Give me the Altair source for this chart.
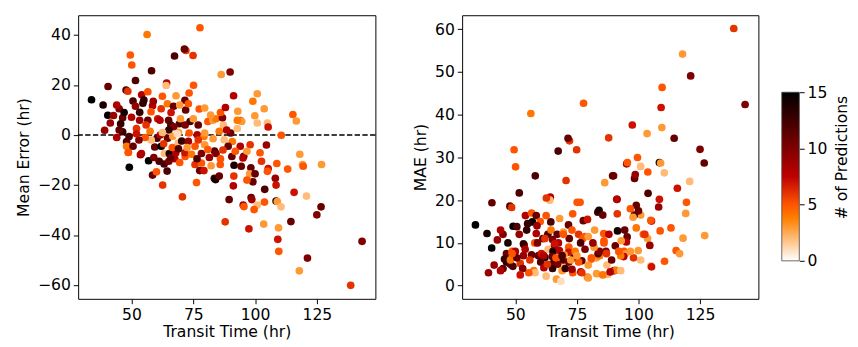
import altair as alt
import pandas as pd

# ---- data (transit time, mean error, MAE, # predictions) ----
transit = [
    33.8, 38.5, 40.4, 39.1, 40.5, 41.4, 42.7, 46.4, 45.6, 46.4,
    49.5, 50.1, 56.3, 77.7, 72.0, 71.4, 67.4, 74.9, 58.1, 86.3,
    89.9, 51.6, 47.8, 48.5, 64.2, 64.0, 75.1, 91.3, 54.1, 56.6,
    62.5, 68.0, 73.3, 100.9, 99.1, 103.7, 99.9, 100.9, 105.0, 105.3,
    115.3, 116.7, 110.6, 94.1, 94.6, 98.0, 104.6, 102.0, 118.1, 95.4,
    96.7, 94.0, 126.9, 119.2, 119.5, 113.2, 108.8, 105.3, 105.0, 102.6,
    98.3, 97.8, 100.0, 99.1, 96.7, 108.2, 108.5, 103.9, 115.8, 120.8,
    98.4, 98.7, 95.2, 95.5, 100.9, 103.8, 108.5, 109.0, 110.5, 126.7,
    125.0, 114.5, 97.5, 103.5, 109.5, 109.2, 109.6, 121.2, 117.9, 143.3,
    138.7, 99.6, 49.1, 56.9, 58.5, 60.1, 62.6, 64.4, 70.6, 76.3,
    83.5, 84.0, 85.5, 89.5, 87.9, 91.2, 91.4, 91.5, 75.7, 78.3,
    82.2, 77.6, 79.3, 85.9, 53.6, 48.7, 61.2, 63.2, 65.1, 67.5,
    71.7, 90.6, 95.1, 94.4, 50.6, 51.6, 54.6, 58.5, 57.9, 50.0,
    53.3, 53.3, 56.6, 55.9, 52.0, 49.0, 48.0, 48.0, 50.6, 48.7,
    54.0, 59.4, 62.0, 60.3, 61.6, 64.6, 63.3, 65.3, 65.9, 67.9,
    68.9, 71.6, 60.6, 61.5, 65.0, 65.9, 69.4, 69.8, 67.1, 65.1,
    69.0, 71.7, 73.3, 73.7, 77.0, 76.6, 79.3, 79.6, 80.9, 82.9,
    84.2, 87.2, 86.8, 90.1, 90.8, 87.5, 92.8, 92.8, 89.1, 83.6,
    84.2, 78.3, 75.7, 79.6, 80.9, 74.3, 70.3, 71.6, 71.9, 77.4,
    79.6, 75.0, 64.5, 67.0, 62.0, 69.5, 73.0, 58.8, 55.0, 45.0,
    44.0, 66.0, 82.0, 86.0, 88.0, 93.0, 57.5, 58.0, 55.5, 53.0,
    73.0, 77.0, 83.0, 85.5, 88.5, 63.0, 66.5, 69.0, 72.5, 87.0,
    92.0, 81.5, 86.0, 76.5, 69.5, 59.0, 52.0, 45.0, 44.0, 47.0,
    62.5, 66.7, 68.5,
]

mean_error = [
    14.1, 12.0, 7.9, 1.9, 19.4, 4.8, 7.8, 6.9, 4.5, 1.3,
    32.0, 28.0, 40.2, 42.9, 33.8, 34.4, 31.6, 31.8, 25.7, 24.2,
    25.2, 21.8, 18.0, 17.5, 20.8, 19.8, 19.9, 15.7, 16.1, 17.3,
    15.5, 15.7, 16.8, 16.5, 13.5, 10.5, 7.7, 4.8, 4.8, 3.2,
    8.2, 5.6, -0.1, 5.8, 5.4, -3.9, -4.0, -7.1, -7.7, -8.5,
    -6.5, -4.5, -11.8, -11.8, -12.5, -13.6, -11.4, -13.4, -14.5, -10.5,
    -13.1, -15.5, -15.5, -18.7, -18.0, -17.3, -20.0, -21.7, -22.9, -24.4,
    -25.0, -25.8, -28.0, -28.6, -28.0, -26.8, -26.4, -26.6, -28.7, -28.7,
    -31.9, -34.6, -37.5, -35.6, -37.1, -41.7, -46.5, -49.2, -54.3, -42.5,
    -60.1, -29.8, -12.9, -10.3, -16.0, -14.7, -20.0, -14.4, -24.7, -19.0,
    -17.3, -17.8, -16.4, -25.8, -34.7, -20.3, -16.4, -12.1, -11.8, -11.2,
    -12.3, -14.2, -14.2, -11.8, -7.9, -7.0, -10.5, -11.6, -10.5, -9.5,
    -8.6, -8.6, -9.2, -12.5, 13.6, 11.5, 12.7, 11.7, 9.3, 7.1,
    9.1, 5.9, 5.9, 4.0, 2.6, -0.6, -2.6, -4.5, -4.5, -6.9,
    -7.4, -4.8, -4.5, -1.3, 0.0, -1.3, -7.4, -7.4, -9.1, -7.1,
    -3.2, -7.1, 6.5, 5.9, 5.9, 4.0, 4.5, 6.5, 3.3, 2.0,
    1.0, 4.0, 0.8, 5.4, 4.0, 0.1, -0.6, 0.8, 5.4, 5.9,
    6.5, 4.0, 6.9, 0.8, -2.6, -1.9, 5.9, 2.6, -4.5, -6.4,
    -7.4, -7.4, -4.5, -3.9, -5.8, -7.7, -2.4, 13.9, 10.0, 10.4,
    10.8, 6.5, 12.5, 11.5, 10.5, 12.0, 12.5, 13.5, 14.0, 10.5,
    12.0, 9.0, 8.0, 9.0, 11.0, 9.5, 1.5, -2.0, -1.0, -2.0,
    -2.5, -2.0, -1.5, 1.5, 2.0, -3.5, -5.0, -5.5, -5.0, -6.0,
    -6.5, -9.0, -9.5, -9.5, -11.0, -9.0, 0.5, 2.0, -1.0, 9.0,
    1.0, -0.5, 0.5,
]

mae = [
    14.2, 12.2, 8.8, 3.0, 19.4, 4.8, 10.7, 7.5, 6.2, 5.5,
    31.8, 27.8, 40.3, 42.7, 33.9, 34.5, 31.5, 31.8, 25.7, 24.1,
    25.7, 21.7, 18.6, 18.3, 20.7, 20.0, 19.5, 20.2, 16.4, 17.0,
    16.4, 15.7, 16.8, 16.5, 13.5, 11.0, 8.2, 6.0, 4.6, 4.4,
    8.2, 7.5, 5.7, 8.0, 7.4, 6.5, 9.4, 12.0, 11.1, 11.4,
    8.0, 6.8, 11.7, 16.9, 19.5, 13.5, 12.8, 15.1, 15.3, 12.0,
    16.5, 16.0, 17.5, 18.8, 18.0, 18.4, 20.2, 21.6, 22.8, 24.4,
    25.1, 26.0, 28.5, 28.8, 27.9, 26.6, 28.8, 28.7, 26.4, 28.7,
    31.9, 34.5, 37.6, 35.6, 37.0, 41.7, 46.4, 49.1, 54.2, 42.4,
    60.2, 30.0, 13.9, 14.9, 16.4, 15.0, 20.5, 14.9, 24.6, 19.5,
    17.2, 17.6, 16.5, 25.7, 34.6, 20.2, 16.8, 12.8, 12.0, 11.5,
    13.0, 15.2, 15.5, 12.2, 9.5, 8.0, 11.0, 12.0, 10.8, 10.0,
    9.0, 9.3, 10.2, 13.0, 13.8, 12.0, 13.0, 12.2, 10.0, 8.0,
    9.8, 7.0, 7.2, 6.0, 5.2, 4.5, 5.0, 6.0, 6.5, 7.5,
    8.5, 7.0, 6.6, 5.5, 4.2, 5.0, 8.5, 8.0, 9.5, 8.2,
    4.5, 7.8, 7.5, 7.0, 6.8, 5.8, 6.0, 7.2, 5.0, 4.0,
    3.5, 5.5, 3.0, 6.5, 5.8, 3.2, 2.0, 1.8, 6.2, 6.5,
    7.0, 4.8, 8.0, 3.5, 3.6, 2.6, 7.0, 3.5, 6.0, 7.5,
    8.0, 8.5, 5.5, 4.8, 6.5, 8.0, 4.0, 14.2, 11.0, 11.0,
    11.5, 7.0, 13.0, 12.0, 11.0, 12.5, 13.0, 14.0, 14.5, 12.0,
    13.0, 9.8, 9.0, 10.0, 12.0, 10.5, 3.5, 3.0, 3.0, 4.0,
    3.8, 3.0, 2.8, 2.5, 3.2, 5.0, 6.5, 7.0, 6.0, 7.5,
    8.0, 10.0, 10.5, 10.0, 12.0, 10.0, 2.5, 4.0, 3.5, 10.0,
    2.2, 1.5, 1.0,
]

n_pred = [
    15, 14, 15, 9, 11, 9, 9, 11, 13, 13,
    5, 5, 4, 5, 6, 11, 12, 6, 12, 3,
    10, 12, 12, 6, 8, 2, 5, 8, 8, 5,
    5, 3, 5, 3, 4, 3, 3, 2, 2, 7,
    5, 3, 5, 5, 3, 6, 9, 5, 3, 11,
    3, 8, 3, 3, 5, 5, 5, 7, 5, 6,
    11, 3, 11, 11, 5, 9, 7, 12, 7, 2,
    11, 9, 9, 5, 2, 5, 14, 3, 2, 11,
    10, 11, 7, 3, 3, 7, 5, 10, 3, 10,
    6, 5, 15, 15, 11, 5, 6, 12, 6, 5,
    12, 14, 11, 11, 6, 8, 6, 14, 6, 5,
    3, 11, 7, 5, 9, 5, 12, 12, 10, 8,
    5, 11, 8, 11, 12, 9, 13, 8, 5, 8,
    13, 9, 11, 6, 6, 12, 12, 4, 11, 5,
    8, 11, 15, 12, 8, 11, 2, 14, 11, 8,
    2, 7, 7, 8, 11, 12, 12, 3, 10, 13,
    3, 10, 5, 12, 11, 8, 4, 3, 5, 3,
    4, 2, 10, 11, 4, 2, 4, 2, 11, 12,
    10, 10, 5, 3, 5, 4, 13, 11, 11, 5,
    3, 3, 4, 11, 6, 3, 5, 9, 13, 10,
    8, 7, 3, 5, 8, 3, 4, 2, 5, 10,
    9, 6, 3, 4, 8, 6, 5, 12, 3, 6,
    5, 9, 5, 12, 5, 10, 7, 11, 8, 14,
    2, 3, 1,
]

x_ticks = [50, 75, 100, 125]
me_ticks = [-60, -40, -20, 0, 20, 40]
mae_ticks = [0, 10, 20, 30, 40, 50, 60]
cbar_ticks = [0, 5, 10, 15]
cbar_span = [0, 15]
# gist_heat_r breakpoints
cmap_stops = [0, 3.75, 5, 7.5, 15]
cmap_colors = ["#ffffff", "#ff8000", "#ff5500", "#bf0000", "#000000"]

assert len(transit) == len(mean_error) == len(mae) == len(n_pred)

df = pd.DataFrame({"transit": transit, "me": mean_error, "mae": mae, "n": n_pred})
zero_df = pd.DataFrame({"y": [0]})
cbar_df = pd.DataFrame({"lo": [cbar_span[0]], "hi": [cbar_span[1]]})

FONT = "DejaVu Sans"
PW, PH = 305, 291

color = alt.Color(
    "n:Q",
    scale=alt.Scale(domain=cmap_stops, range=cmap_colors, interpolate="rgb"),
    legend=None,
)
xscale = alt.Scale(domain=[28.4, 148.7], nice=False, zero=False)
xenc = alt.X("transit:Q", scale=xscale,
             axis=alt.Axis(values=x_ticks, title="Transit Time (hr)", titlePadding=2))

me_scale = alt.Scale(domain=[-65.5, 47.9], nice=False, zero=False)
zero_line = alt.Chart(zero_df).mark_rule(
    color="black", strokeWidth=1.5, strokeDash=[5.5, 2.4]
).encode(y=alt.Y("y:Q", scale=me_scale))
pts_left = alt.Chart(df).mark_circle(size=62, opacity=1).encode(
    x=xenc,
    y=alt.Y("me:Q", scale=me_scale,
            axis=alt.Axis(values=me_ticks, title="Mean Error (hr)", titlePadding=6)),
    color=color,
)
left = alt.layer(zero_line, pts_left).properties(width=PW, height=PH)

right = alt.Chart(df).mark_circle(size=62, opacity=1).encode(
    x=xenc,
    y=alt.Y("mae:Q", scale=alt.Scale(domain=[-3.1, 63.3], nice=False, zero=False),
            axis=alt.Axis(values=mae_ticks, title="MAE (hr)", titlePadding=6)),
    color=color,
).properties(width=304, height=PH)

grad = {
    "gradient": "linear", "x1": 0, "y1": 1, "x2": 0, "y2": 0,
    "stops": [{"offset": s / 15.0, "color": c} for s, c in zip(cmap_stops, cmap_colors)],
}
cbar = alt.Chart(cbar_df).mark_rect(fill=grad, stroke="#444444", strokeWidth=0.8).encode(
    y=alt.Y("lo:Q", scale=alt.Scale(domain=[-3.38, 21.85], nice=False, zero=False),
            axis=alt.Axis(orient="right", values=cbar_ticks, title="# of Predictions",
                          titleAngle=270, titleBaseline="top", titlePadding=7)),
    y2="hi:Q",
    x=alt.value(0),
    x2=alt.value(18),
).properties(width=18, height=PH, view=alt.ViewBackground(strokeOpacity=0))

chart = alt.hconcat(
    alt.hconcat(left, right, spacing=36),
    cbar,
    spacing=22,
).properties(
    padding={"left": 7, "top": 2, "right": 0, "bottom": 2},
).configure_axis(
    labelFont=FONT, titleFont=FONT, labelFontSize=16, titleFontSize=16,
    titleFontWeight="normal", labelColor="black", titleColor="black",
    tickColor="black", tickSize=5, tickWidth=1, domain=False, grid=False,
    labelPadding=3,
).configure_view(stroke="black", strokeWidth=1)

chart.save("out.html", embed_options={"renderer": "svg", "actions": False})
